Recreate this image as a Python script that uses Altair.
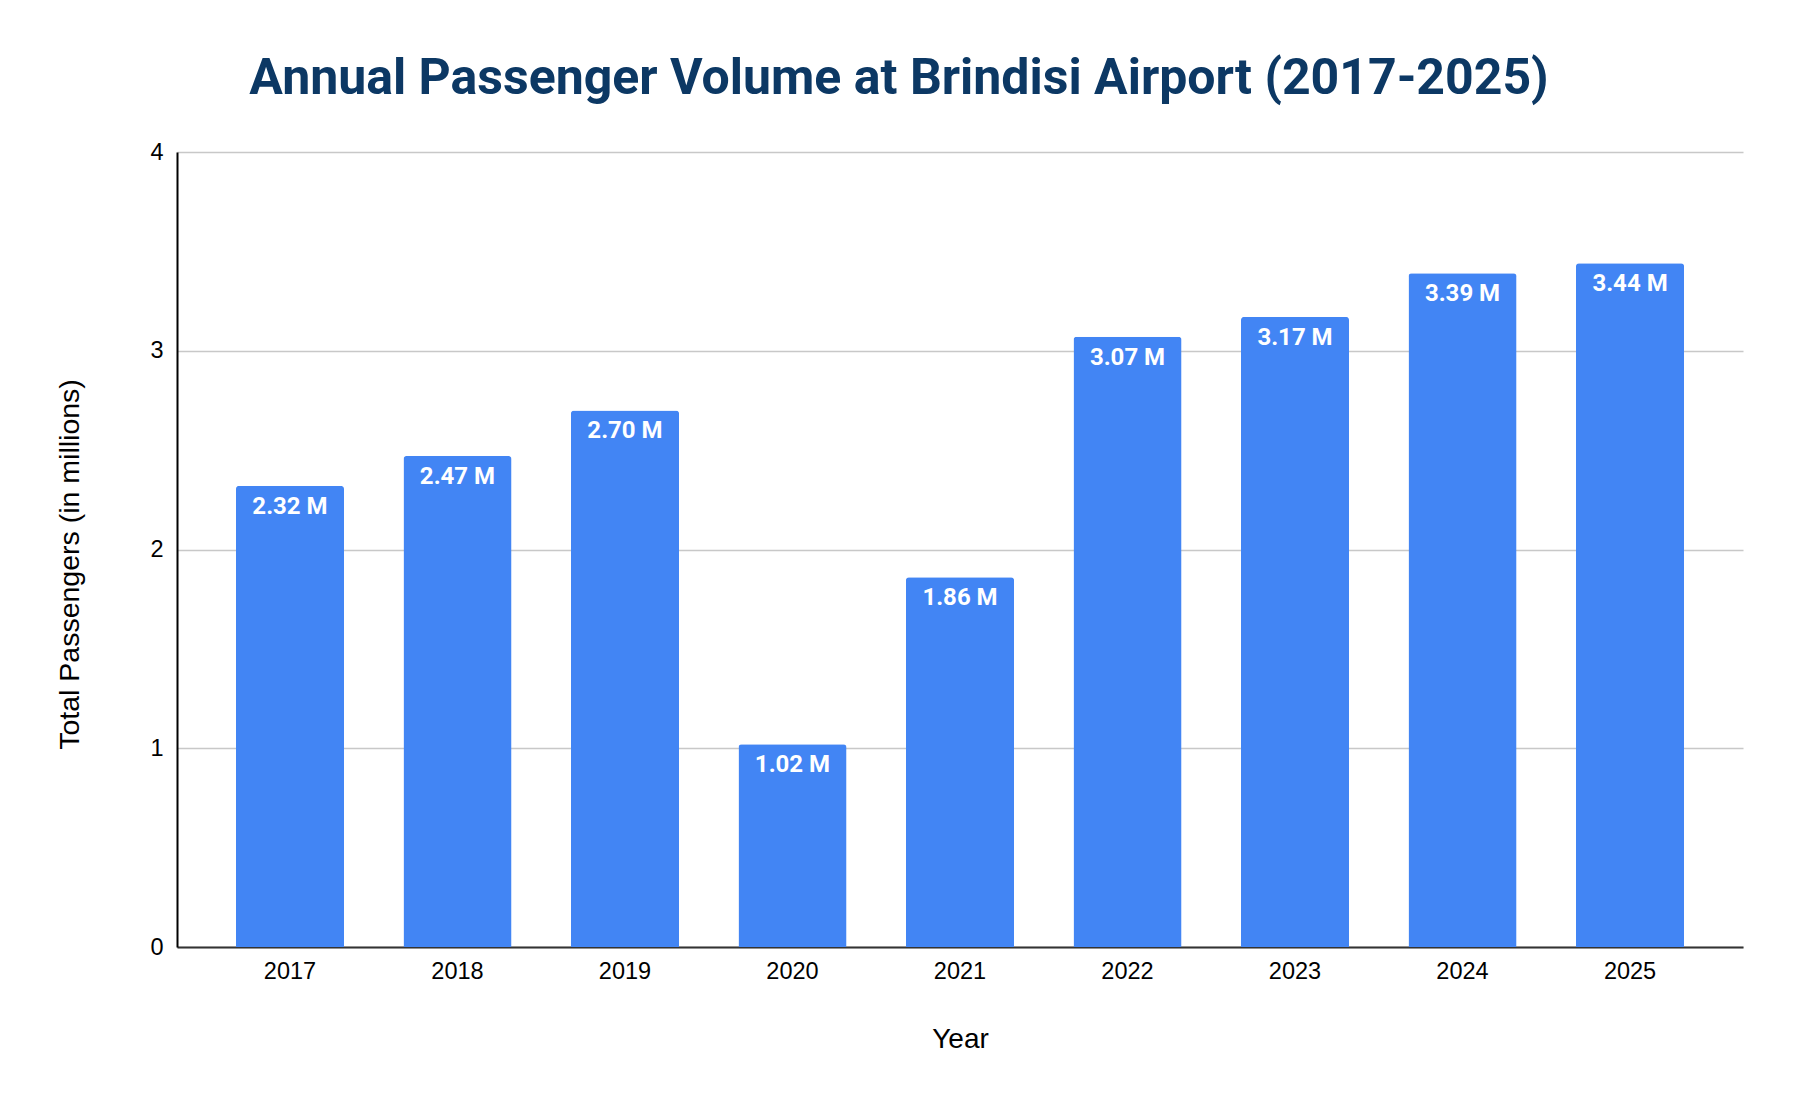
import altair as alt
import pandas as pd

years = ["2017", "2018", "2019", "2020", "2021", "2022", "2023", "2024", "2025"]
passengers = [2.32, 2.47, 2.70, 1.02, 1.86, 3.07, 3.17, 3.39, 3.44]
y_ticks = [0, 1, 2, 3, 4]

df = pd.DataFrame({
    "Year": years,
    "Passengers": passengers,
    "Label": [f"{v:.2f} M" for v in passengers],
})

AXIS_FONT = "Liberation Sans"
BOLD_FONT = "Roboto"

x = alt.X(
    "Year:N",
    sort=years,
    scale=alt.Scale(paddingInner=0.355, paddingOuter=0.352),
    axis=alt.Axis(
        title="Year",
        labelAngle=0,
        labelFont=AXIS_FONT,
        labelFontSize=23.5,
        labelColor="#000000",
        labelBaseline="alphabetic",
        labelPadding=31,
        ticks=False,
        tickSize=0,
        domainColor="#333333",
        domainWidth=2,
        titleFont=AXIS_FONT,
        titleFontSize=28,
        titleFontWeight="normal",
        titleColor="#000000",
        titleBaseline="alphabetic",
        titleY=100,
        grid=False,
    ),
)

y = alt.Y(
    "Passengers:Q",
    scale=alt.Scale(domain=[0, 4]),
    axis=alt.Axis(
        title="Total Passengers (in millions)",
        values=y_ticks,
        format="d",
        labelFont=AXIS_FONT,
        labelFontSize=23.5,
        labelColor="#000000",
        labelPadding=14,
        ticks=False,
        tickSize=0,
        domainColor="#000000",
        domainWidth=2,
        gridColor="#c8c8c8",
        gridWidth=1.5,
        titleFont=AXIS_FONT,
        titleFontSize=28.5,
        titleFontWeight="normal",
        titleColor="#000000",
        titleAngle=270,
        titleAlign="center",
        titleBaseline="middle",
        titleX=-108,
        titleY=412,
    ),
)

bars = alt.Chart(df).mark_bar(
    color="#4285F4",
    cornerRadiusTopLeft=3,
    cornerRadiusTopRight=3,
).encode(x=x, y=y)

labels = alt.Chart(df).mark_text(
    color="#ffffff",
    font=BOLD_FONT,
    fontSize=24,
    fontWeight="bold",
    baseline="alphabetic",
    align="center",
    dy=28,
).encode(
    x=alt.X("Year:N", sort=years),
    y=alt.Y("Passengers:Q"),
    text="Label:N",
)

chart = alt.layer(bars, labels).properties(
    width=1566,
    height=795,
    background="#ffffff",
    autosize=alt.AutoSizeParams(type="none"),
    padding={"left": 169, "top": 144, "right": 40, "bottom": 140},
    title=alt.TitleParams(
        text="Annual Passenger Volume at Brindisi Airport (2017-2025)",
        font=BOLD_FONT,
        fontSize=50,
        fontWeight="bold",
        color="#0c3864",
        anchor="middle",
        baseline="alphabetic",
        offset=40,
        dx=-61,
        dy=44,
    ),
).configure_view(strokeWidth=0)

chart.save("out.html", embed_options={"renderer": "svg", "actions": False})
